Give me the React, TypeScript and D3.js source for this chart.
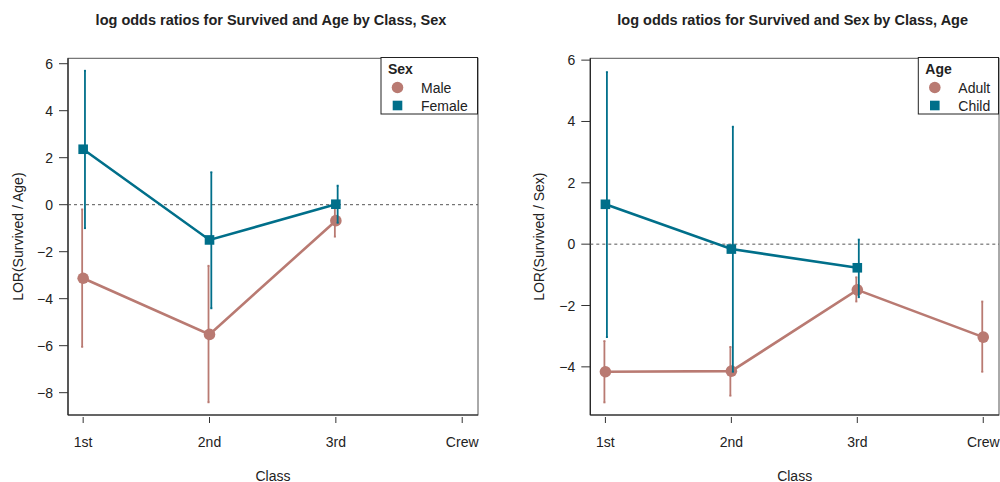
import React from "react";
import * as d3 from "d3";

const classes = ["1st", "2nd", "3rd", "Crew"];

// Left panel: log odds ratios for Survived and Age by Class, Sex
const leftTitle = "log odds ratios for Survived and Age by Class, Sex";
const leftYLabel = "LOR(Survived / Age)";
const leftLegendTitle = "Sex";
const leftSeriesNames = ["Male", "Female"];
const leftMaleLOR = [-3.13, -5.52, -0.68, null];
const leftMaleLo = [-6.05, -8.41, -1.36, null];
const leftMaleHi = [-0.2, -2.6, 0.0, null];
const leftFemaleLOR = [2.36, -1.5, 0.02, null];
const leftFemaleLo = [-1.0, -4.41, -0.77, null];
const leftFemaleHi = [5.7, 1.38, 0.81, null];
const leftYTicks = [-8, -6, -4, -2, 0, 2, 4, 6];
const leftYDomain = [-8.95, 6.23];

// Right panel: log odds ratios for Survived and Sex by Class, Age
const rightTitle = "log odds ratios for Survived and Sex by Class, Age";
const rightYLabel = "LOR(Survived / Sex)";
const rightLegendTitle = "Age";
const rightSeriesNames = ["Adult", "Child"];
const rightAdultLOR = [-4.16, -4.14, -1.49, -3.03];
const rightAdultLo = [-5.16, -4.94, -1.87, -4.16];
const rightAdultHi = [-3.16, -3.35, -1.08, -1.87];
const rightChildLOR = [1.3, -0.16, -0.77, null];
const rightChildLo = [-3.03, -4.16, -1.73, null];
const rightChildHi = [5.61, 3.83, 0.15, null];
const rightYTicks = [-4, -2, 0, 2, 4, 6];
const rightYDomain = [-5.57, 6.06];

const ROSE = "#B97A72";
const TEAL = "#006F8A";
const FONT = "'Liberation Sans', Arial, Helvetica, sans-serif";
const FS = 14;

type Series = {
  name: string;
  color: string;
  shape: "circle" | "square";
  lor: (number | null)[];
  lo: (number | null)[];
  hi: (number | null)[];
  dx: number;
};

type PanelProps = {
  left: number;
  right: number;
  top: number;
  bottom: number;
  title: string;
  yLabel: string;
  yLabelX: number;
  yTicks: number[];
  yDomain: number[];
  legendTitle: string;
  legendBox: [number, number, number, number];
  series: Series[];
};

function Panel(p: PanelProps) {
  const x = d3.scaleLinear().domain([0.88, 4.125]).range([p.left, p.right]);
  const y = d3.scaleLinear().domain(p.yDomain).range([p.bottom, p.top]);
  const fmt = d3.format("d");
  const cx = (p.left + p.right) / 2;
  const cy = (p.top + p.bottom) / 2;
  const [lx0, ly0, lx1, ly1] = p.legendBox;
  return (
    <g fontFamily={FONT}>
      <text x={cx - 2} y={25} textAnchor="middle" fontWeight="bold" fontSize={14.5} fill="#222">
        {p.title}
      </text>
      {/* box */}
      <rect x={p.left} y={p.top} width={p.right - p.left} height={p.bottom - p.top} fill="none" stroke="#555" strokeWidth={1} />
      <line x1={p.left} x2={p.left} y1={p.top} y2={p.bottom} stroke="#222" strokeWidth={1.2} />
      <line x1={p.left} x2={p.right} y1={p.bottom} y2={p.bottom} stroke="#222" strokeWidth={1.2} />
      {/* y axis */}
      {p.yTicks.map((t) => (
        <g key={t}>
          <line x1={p.left - 9} x2={p.left} y1={y(t)} y2={y(t)} stroke="#333" strokeWidth={1} />
          <text x={p.left - 15} y={y(t) + 5} textAnchor="end" fontSize={FS} fill="#222">
            {fmt(t)}
          </text>
        </g>
      ))}
      <text
        transform={`translate(${p.yLabelX},${cy}) rotate(-90)`}
        textAnchor="middle"
        fontSize={FS}
        fill="#222"
      >
        {p.yLabel}
      </text>
      {/* x axis */}
      {classes.map((c, i) => (
        <g key={c}>
          <line x1={x(i + 1)} x2={x(i + 1)} y1={p.bottom + 2} y2={p.bottom + 8} stroke="#333" strokeWidth={1} />
          <text x={x(i + 1)} y={p.bottom + 31.5} textAnchor="middle" fontSize={FS} fill="#222">
            {c}
          </text>
        </g>
      ))}
      <text x={cx} y={p.bottom + 65.5} textAnchor="middle" fontSize={FS} fill="#222">
        Class
      </text>
      {/* reference line */}
      <line x1={p.left} x2={p.right} y1={y(0)} y2={y(0)} stroke="#555" strokeWidth={1} strokeDasharray="3,3" />
      {/* series */}
      {p.series.map((s) => {
        const pts = s.lor
          .map((v, i) => (v == null ? null : ([x(i + 1), y(v)] as [number, number])))
          .filter((d) => d != null) as [number, number][];
        const path = d3.line()(pts) || "";
        return (
          <g key={s.name}>
            <path d={path} fill="none" stroke={s.color} strokeWidth={2.6} />
            {s.lor.map((v, i) => {
              if (v == null || s.lo[i] == null || s.hi[i] == null) return null;
              const bx = x(i + 1) + s.dx;
              return (
                <g key={i}>
                  <line x1={bx} x2={bx} y1={y(s.lo[i] as number)} y2={y(s.hi[i] as number)} stroke={s.color} strokeWidth={1.8} />
                  <line x1={bx - 1} x2={bx + 1} y1={y(s.lo[i] as number)} y2={y(s.lo[i] as number)} stroke={s.color} strokeWidth={1.8} />
                  <line x1={bx - 1} x2={bx + 1} y1={y(s.hi[i] as number)} y2={y(s.hi[i] as number)} stroke={s.color} strokeWidth={1.8} />
                </g>
              );
            })}
            {s.lor.map((v, i) => {
              if (v == null) return null;
              return s.shape === "circle" ? (
                <circle key={"p" + i} cx={x(i + 1)} cy={y(v)} r={5.8} fill={s.color} />
              ) : (
                <rect key={"p" + i} x={x(i + 1) - 4.8} y={y(v) - 4.8} width={9.6} height={9.6} fill={s.color} />
              );
            })}
          </g>
        );
      })}
      {/* legend */}
      <rect x={lx0} y={ly0} width={lx1 - lx0} height={ly1 - ly0} fill="white" stroke="#222" strokeWidth={1} />
      <text x={lx0 + 7} y={ly0 + 16} fontWeight="bold" fontSize={FS} fill="#222">
        {p.legendTitle}
      </text>
      {p.series.map((s, i) => {
        const yy = ly0 + 30 + i * 18;
        const mx = lx0 + 16.5;
        return (
          <g key={"lg" + s.name}>
            {s.shape === "circle" ? (
              <circle cx={mx} cy={yy} r={5.8} fill={s.color} />
            ) : (
              <rect x={mx - 4.8} y={yy - 4.8} width={9.6} height={9.6} fill={s.color} />
            )}
            <text x={lx0 + 40} y={yy + 5} fontSize={FS} fill="#222">
              {s.name}
            </text>
          </g>
        );
      })}
    </g>
  );
}

export default function App() {
  const leftSeries: Series[] = [
    { name: leftSeriesNames[0], color: ROSE, shape: "circle", lor: leftMaleLOR, lo: leftMaleLo, hi: leftMaleHi, dx: -1 },
    { name: leftSeriesNames[1], color: TEAL, shape: "square", lor: leftFemaleLOR, lo: leftFemaleLo, hi: leftFemaleHi, dx: 1.8 },
  ];
  const rightSeries: Series[] = [
    { name: rightSeriesNames[0], color: ROSE, shape: "circle", lor: rightAdultLOR, lo: rightAdultLo, hi: rightAdultHi, dx: -1 },
    { name: rightSeriesNames[1], color: TEAL, shape: "square", lor: rightChildLOR, lo: rightChildLo, hi: rightChildHi, dx: 1.5 },
  ];
  return (
    <svg
      width={1000}
      height={482}
      style={{ position: "absolute", left: 0, top: 0, background: "white" }}
    >
      <Panel
        left={68}
        right={478}
        top={58.3}
        bottom={415}
        title={leftTitle}
        yLabel={leftYLabel}
        yLabelX={23}
        yTicks={leftYTicks}
        yDomain={leftYDomain}
        legendTitle={leftLegendTitle}
        legendBox={[381, 57.5, 477.5, 114]}
        series={leftSeries}
      />
      <Panel
        left={590.3}
        right={999}
        top={58.3}
        bottom={415}
        title={rightTitle}
        yLabel={rightYLabel}
        yLabelX={544}
        yTicks={rightYTicks}
        yDomain={rightYDomain}
        legendTitle={rightLegendTitle}
        legendBox={[918.3, 57.5, 998.5, 114]}
        series={rightSeries}
      />
    </svg>
  );
}
